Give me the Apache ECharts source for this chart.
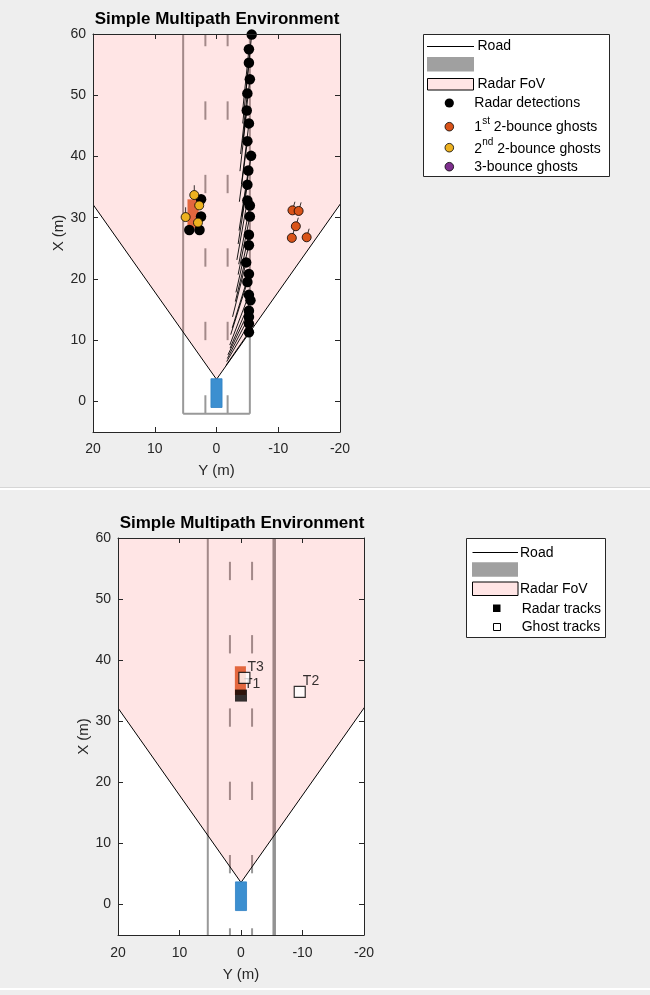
<!DOCTYPE html>
<html><head><meta charset="utf-8">
<script src="https://cdn.jsdelivr.net/npm/echarts@6/dist/echarts.min.js"></script>
<style>html,body{margin:0;padding:0;background:#eeeeee;}#c{width:650px;height:995px;}</style>
</head><body><div id="c"></div>
<script>
// ================= DATA =================
// axis ticks
const xTickLabels = [20, 10, 0, -10, -20];          // lateral Y (m), reversed axis
const yTickLabels = [0, 10, 20, 30, 40, 50, 60];    // longitudinal X (m)

// road geometry (shared)
const roadEdgeY = [5.4, -5.4];
const laneY = [1.8, -1.8];
const dashLength = 3;

// top panel road
const roadStartTop = -2;
const roadEndTop = 60;
const dashStartsTop = [-2, 10, 22, 34, 46, 58];
// bottom panel road
const roadStartBottom = -10;
const roadEndBottom = 70;
const dashStartsBottom = [-6.9, 5.1, 17.1, 29.1, 41.1, 53.1];

// radar sensor / field of view
const sensorY = 0;
const sensorX = 3.6;
const fovHalfAngleDeg = 35;
const fovRange = 150;

// ego vehicle (Y range, X range)
const egoY = [-0.9, 0.9];
const egoX = [-1.0, 3.7];

// target vehicle
const targetTopY = [2.9, 4.7];
const targetTopX = [28.3, 33.0];
const targetBottomY = [-0.8, 1.0];
const targetBottomX = [34.3, 39.0];

// top panel: radar detections
const detY = [-5.7, -5.25, -5.25, -5.4, -5.0, -4.9, -5.25, -5.0, -5.6, -5.15, -5.0, -5.0, -5.4, -5.4, -5.25, -5.25, -4.8, -5.25, -5.0, -5.25, -5.5, -5.25, -5.25, -5.25, -5.25, 4.4, 2.75, 2.5, 2.5];
const detX = [59.9, 57.5, 55.3, 52.6, 50.3, 47.5, 45.4, 42.5, 40.1, 37.7, 35.4, 32.8, 32.0, 30.2, 27.2, 25.5, 22.7, 20.8, 19.5, 17.4, 16.5, 14.8, 13.8, 12.7, 11.3, 28.0, 28.0, 30.2, 33.0];
const detVelY = [1.0, 1.0, 1.0, 1.1, 1.1, 1.1, 1.2, 1.3, 1.5, 1.5, 1.5, 1.7, 1.8, 1.9, 2.1, 2.2, 2.2, 2.7, 2.7, 3.1, 3.3, 3.4, 3.5, 3.6, 3.7, 0, 0, 0, 0];
const detVelX = [-9.9, -9.9, -9.9, -9.9, -9.9, -9.9, -9.9, -9.9, -9.9, -9.8, -9.7, -9.7, -9.6, -9.5, -9.4, -9.2, -8.9, -8.8, -8.6, -8.2, -7.8, -7.2, -6.8, -6.2, -5.4, 0.3, 0.3, 0.3, 0.3];

// 1st 2-bounce ghosts
const ghost1Y = [-12.3, -13.3, -12.85, -12.2, -14.6];
const ghost1X = [31.2, 31.1, 28.6, 26.7, 26.8];
const ghost1VelY = [-0.4, -0.4, -0.4, -0.4, -0.4];
const ghost1VelX = [1.4, 1.4, 1.4, 1.4, 1.4];

// 2nd 2-bounce ghosts
const ghost2Y = [3.6, 2.8, 5.0, 3.0];
const ghost2X = [33.7, 32.0, 30.1, 29.2];
const ghost2VelY = [0, 0, 0, 0];
const ghost2VelX = [1.6, 1.6, 1.6, 1.6];

// 3-bounce ghosts (none in this frame)
const ghost3Y = [];
const ghost3X = [];

// bottom panel: tracks
const radarTrackNames = ['T1'];
const radarTrackY = [0.0];
const radarTrackX = [34.2];
const ghostTrackNames = ['T2', 'T3'];
const ghostTrackY = [-9.55, -0.55];
const ghostTrackX = [34.8, 37.1];

// ================= CHART =================
const FONT = '"Liberation Sans", Arial, Helvetica, sans-serif';
const AX = '#262626';
const ROAD = '#999999';
const FOV_FILL = 'rgba(255,0,0,0.1)';
const C_GHOST1 = '#D95319', C_GHOST2 = '#EDB120', C_GHOST3 = '#7E2F8E';

function mkX(gi, top, margin, gap) {
  return {
    type: 'value', gridIndex: gi, min: -20, max: 20, interval: 10, inverse: true,
    position: top ? 'top' : 'bottom', z: 10,
    axisLine: { show: true, onZero: false, lineStyle: { color: AX, width: 1 } },
    axisTick: { show: true, inside: true, length: 5, customValues: xTickLabels, lineStyle: { color: AX } },
    axisLabel: { show: !top, customValues: xTickLabels, color: AX, fontSize: 14, fontFamily: FONT, margin: margin || 10 },
    splitLine: { show: false },
    name: top ? '' : 'Y (m)', nameLocation: 'middle', nameGap: gap || 31,
    nameTextStyle: { color: AX, fontSize: 15, fontFamily: FONT }
  };
}
function mkY(gi, right) {
  return {
    type: 'value', gridIndex: gi, min: -5, max: 60,
    position: right ? 'right' : 'left', z: 10,
    axisLine: { show: true, onZero: false, lineStyle: { color: AX, width: 1 } },
    axisTick: { show: true, inside: true, length: 5, customValues: yTickLabels, lineStyle: { color: AX } },
    axisLabel: { show: !right, customValues: yTickLabels, color: AX, fontSize: 14, fontFamily: FONT, margin: 7 },
    splitLine: { show: false },
    name: right ? '' : 'X (m)', nameLocation: 'middle', nameGap: 27, nameRotate: 90,
    nameTextStyle: { color: AX, fontSize: 15, fontFamily: FONT }
  };
}

function segSeries(gi, data, style, z) {
  return {
    type: 'custom', coordinateSystem: 'cartesian2d', xAxisIndex: gi * 2, yAxisIndex: gi * 2,
    clip: true, z: z, silent: true, encode: { x: [0, 2], y: [1, 3] }, data: data,
    renderItem: function (params, api) {
      const p0 = api.coord([api.value(0), api.value(1)]);
      const p1 = api.coord([api.value(2), api.value(3)]);
      return { type: 'line', shape: { x1: p0[0], y1: p0[1], x2: p1[0], y2: p1[1] }, style: Object.assign({ fill: null }, style) };
    }
  };
}
function rectSeries(gi, ys, xs, style, z) {
  return {
    type: 'custom', coordinateSystem: 'cartesian2d', xAxisIndex: gi * 2, yAxisIndex: gi * 2,
    clip: true, z: z, silent: true, encode: { x: [0, 2], y: [1, 3] },
    data: [[ys[0], xs[0], ys[1], xs[1]]],
    renderItem: function (params, api) {
      const a = api.coord([api.value(0), api.value(1)]);
      const b = api.coord([api.value(2), api.value(3)]);
      return { type: 'rect', shape: { x: Math.min(a[0], b[0]), y: Math.min(a[1], b[1]), width: Math.abs(a[0] - b[0]), height: Math.abs(a[1] - b[1]) }, style: style };
    }
  };
}
function fovVertices() {
  const a = fovHalfAngleDeg * Math.PI / 180;
  return [sensorY, sensorX,
          sensorY + fovRange * Math.sin(a), sensorX + fovRange * Math.cos(a),
          sensorY - fovRange * Math.sin(a), sensorX + fovRange * Math.cos(a)];
}
function fovSeries(gi) {
  return {
    type: 'custom', coordinateSystem: 'cartesian2d', xAxisIndex: gi * 2, yAxisIndex: gi * 2,
    clip: true, z: 3, silent: true, encode: { x: [0, 2, 4], y: [1, 3, 5] }, data: [fovVertices()],
    renderItem: function (params, api) {
      const pts = [];
      for (let i = 0; i < 3; i++) pts.push(api.coord([api.value(2 * i), api.value(2 * i + 1)]));
      return { type: 'polygon', shape: { points: pts }, style: { fill: FOV_FILL, stroke: null } };
    }
  };
}
function fovEdgeSeries(gi) {
  const v = fovVertices();
  return segSeries(gi, [[v[0], v[1], v[2], v[3]], [v[0], v[1], v[4], v[5]]], { stroke: '#000', lineWidth: 1 }, 4);
}
function dashData(starts) {
  const out = [];
  laneY.forEach(function (y) { starts.forEach(function (s) { out.push([y, s, y, s + dashLength]); }); });
  return out;
}
function zip(ys, xs) { return ys.map(function (y, i) { return [y, xs[i]]; }); }
function velData(ys, xs, vys, vxs) { return ys.map(function (y, i) { return [y, xs[i], y + vys[i], xs[i] + vxs[i]]; }); }
function scatter(gi, data, color, size, border, z) {
  return {
    type: 'scatter', xAxisIndex: gi * 2, yAxisIndex: gi * 2, data: data, symbol: 'circle', symbolSize: size, z: z, silent: true,
    itemStyle: { color: color, borderColor: border ? '#000' : color, borderWidth: border ? 0.8 : 0, opacity: 1 }
  };
}

const series = [
  // ---------- top panel ----------
  segSeries(0, [[roadEdgeY[0], roadStartTop, roadEdgeY[0], roadEndTop],
                [roadEdgeY[1], roadStartTop, roadEdgeY[1], roadEndTop],
                [roadEdgeY[0], roadStartTop, roadEdgeY[1], roadStartTop]], { stroke: ROAD, lineWidth: 2 }, 2),
  segSeries(0, dashData(dashStartsTop), { stroke: ROAD, lineWidth: 2 }, 2),
  fovSeries(0),
  fovEdgeSeries(0),
  rectSeries(0, egoY, egoX, { fill: '#3c8fd0', stroke: '#2f80c4', lineWidth: 0.8 }, 5),
  rectSeries(0, targetTopY, targetTopX, { fill: '#e3673f', stroke: null }, 5),
  segSeries(0, velData(detY, detX, detVelY, detVelX), { stroke: '#000', lineWidth: 0.9 }, 6),
  scatter(0, zip(detY, detX), '#000', 10.5, false, 7),
  segSeries(0, velData(ghost1Y, ghost1X, ghost1VelY, ghost1VelX), { stroke: '#000', lineWidth: 0.8 }, 8),
  scatter(0, zip(ghost1Y, ghost1X), C_GHOST1, 9, true, 8),
  segSeries(0, velData(ghost2Y, ghost2X, ghost2VelY, ghost2VelX), { stroke: '#000', lineWidth: 0.8 }, 9),
  scatter(0, zip(ghost2Y, ghost2X), C_GHOST2, 9, true, 9),
  scatter(0, zip(ghost3Y, ghost3X), C_GHOST3, 9, true, 9),
  // ---------- bottom panel ----------
  segSeries(1, [[roadEdgeY[0], roadStartBottom, roadEdgeY[0], roadEndBottom]], { stroke: ROAD, lineWidth: 2 }, 2),
  segSeries(1, [[roadEdgeY[1], roadStartBottom, roadEdgeY[1], roadEndBottom]], { stroke: '#939393', lineWidth: 3.5 }, 2),
  segSeries(1, dashData(dashStartsBottom), { stroke: ROAD, lineWidth: 2 }, 2),
  fovSeries(1),
  fovEdgeSeries(1),
  rectSeries(1, egoY, egoX, { fill: '#3c8fd0', stroke: '#2f80c4', lineWidth: 0.8 }, 5),
  rectSeries(1, targetBottomY, targetBottomX, { fill: '#e3673f', stroke: null }, 5),
  {
    type: 'scatter', xAxisIndex: 2, yAxisIndex: 2, symbol: 'rect', symbolSize: 12, z: 8, silent: true,
    data: radarTrackNames.map(function (n, i) { return { name: n, value: [radarTrackY[i], radarTrackX[i]] }; }),
    itemStyle: { color: '#000' },
    label: { show: true, formatter: '{b}', position: 'right', offset: [-8, -11], color: '#000', fontSize: 14, fontFamily: FONT }
  },
  {
    type: 'scatter', xAxisIndex: 2, yAxisIndex: 2, symbol: 'rect', symbolSize: 11, z: 9, silent: true,
    data: ghostTrackNames.map(function (n, i) { return { name: n, value: [ghostTrackY[i], ghostTrackX[i]] }; }),
    itemStyle: { color: '#fff', borderColor: '#000', borderWidth: 1.2 },
    label: { show: true, formatter: '{b}', position: 'right', offset: [-8, -11], color: '#000', fontSize: 14, fontFamily: FONT }
  }
];

function txt(x, y, s, size, extra) {
  return Object.assign({
    type: 'text', x: x, y: y, z: 20,
    style: { text: s, fill: '#000', font: (size || 14) + 'px ' + FONT, align: 'left', verticalAlign: 'middle', textAlign: 'left', textVerticalAlign: 'middle' }
  }, extra || {});
}
const LX = 474.3;
const graphics = [
  { type: 'rect', shape: { x: 0, y: 487, width: 650, height: 1 }, style: { fill: '#d6d6d6' }, z: 1 },
  { type: 'rect', shape: { x: 0, y: 488, width: 650, height: 2 }, style: { fill: '#ffffff' }, z: 1 },
  { type: 'rect', shape: { x: 0, y: 988, width: 650, height: 2 }, style: { fill: '#ffffff' }, z: 1 },
  // titles
  { type: 'text', x: 217, y: 19, z: 20, style: { text: 'Simple Multipath Environment', fill: '#000', font: 'bold 17px ' + FONT, align: 'center', verticalAlign: 'middle', textAlign: 'center', textVerticalAlign: 'middle' } },
  { type: 'text', x: 242, y: 523, z: 20, style: { text: 'Simple Multipath Environment', fill: '#000', font: 'bold 17px ' + FONT, align: 'center', verticalAlign: 'middle', textAlign: 'center', textVerticalAlign: 'middle' } },
  // top legend
  { type: 'rect', z: 15, shape: { x: 423.5, y: 34.5, width: 186, height: 142 }, style: { fill: '#fff', stroke: AX, lineWidth: 1 } },
  { type: 'line', z: 20, shape: { x1: 427, y1: 46.5, x2: 474, y2: 46.5 }, style: { stroke: '#000', lineWidth: 1 } },
  txt(477.5, 46, 'Road'),
  { type: 'rect', z: 20, shape: { x: 427, y: 57, width: 47, height: 14.5 }, style: { fill: '#a0a0a0' } },
  { type: 'rect', z: 20, shape: { x: 427.5, y: 78.5, width: 46, height: 11.5 }, style: { fill: 'rgb(255,229,229)', stroke: '#000', lineWidth: 1 } },
  txt(477.5, 84.5, 'Radar FoV'),
  { type: 'circle', z: 20, shape: { cx: 449.3, cy: 103, r: 4.6 }, style: { fill: '#000' } },
  txt(LX, 103.5, 'Radar detections'),
  { type: 'circle', z: 20, shape: { cx: 449.3, cy: 126.7, r: 4.3 }, style: { fill: C_GHOST1, stroke: '#000', lineWidth: 0.8 } },
  txt(LX, 127.5, '1'),
  txt(LX + 7.9, 121, 'st', 10),
  txt(LX + 15.6, 127.5, ' 2-bounce ghosts'),
  { type: 'circle', z: 20, shape: { cx: 449.3, cy: 147.7, r: 4.3 }, style: { fill: C_GHOST2, stroke: '#000', lineWidth: 0.8 } },
  txt(LX, 148.7, '2'),
  txt(LX + 7.9, 142.2, 'nd', 10),
  txt(LX + 19, 148.7, ' 2-bounce ghosts'),
  { type: 'circle', z: 20, shape: { cx: 449.3, cy: 166.7, r: 4.3 }, style: { fill: C_GHOST3, stroke: '#000', lineWidth: 0.8 } },
  txt(LX, 167.5, '3-bounce ghosts'),
  // bottom legend
  { type: 'rect', z: 15, shape: { x: 466.5, y: 538.5, width: 139, height: 99 }, style: { fill: '#fff', stroke: AX, lineWidth: 1 } },
  { type: 'line', z: 20, shape: { x1: 472.5, y1: 552.5, x2: 518, y2: 552.5 }, style: { stroke: '#000', lineWidth: 1 } },
  txt(520, 553, 'Road'),
  { type: 'rect', z: 20, shape: { x: 472, y: 562.3, width: 46, height: 14.4 }, style: { fill: '#a0a0a0' } },
  { type: 'rect', z: 20, shape: { x: 472.5, y: 582, width: 45.5, height: 13.5 }, style: { fill: 'rgb(255,229,229)', stroke: '#000', lineWidth: 1 } },
  txt(520, 588.8, 'Radar FoV'),
  { type: 'rect', z: 20, shape: { x: 493, y: 604.5, width: 7.5, height: 7.5 }, style: { fill: '#000' } },
  txt(521.7, 608.8, 'Radar tracks'),
  { type: 'rect', z: 20, shape: { x: 493.5, y: 623.5, width: 7, height: 7 }, style: { fill: '#fff', stroke: '#000', lineWidth: 1 } },
  txt(521.7, 627.3, 'Ghost tracks')
];

const chart = echarts.init(document.getElementById('c'), null, { renderer: 'canvas' });
chart.setOption({
  backgroundColor: '#eeeeee',
  animation: false,
  grid: [
    { left: 93, top: 34, width: 247, height: 398, show: true, backgroundColor: '#ffffff', borderWidth: 0, containLabel: false, outerBoundsMode: 'none' },
    { left: 118, top: 538, width: 246, height: 397, show: true, backgroundColor: '#ffffff', borderWidth: 0, containLabel: false, outerBoundsMode: 'none' }
  ],
  xAxis: [mkX(0, false, 10, 31), mkX(0, true), mkX(1, false, 11, 32), mkX(1, true)],
  yAxis: [mkY(0, false), mkY(0, true), mkY(1, false), mkY(1, true)],
  series: series,
  graphic: { elements: graphics }
});
</script>
</body></html>
